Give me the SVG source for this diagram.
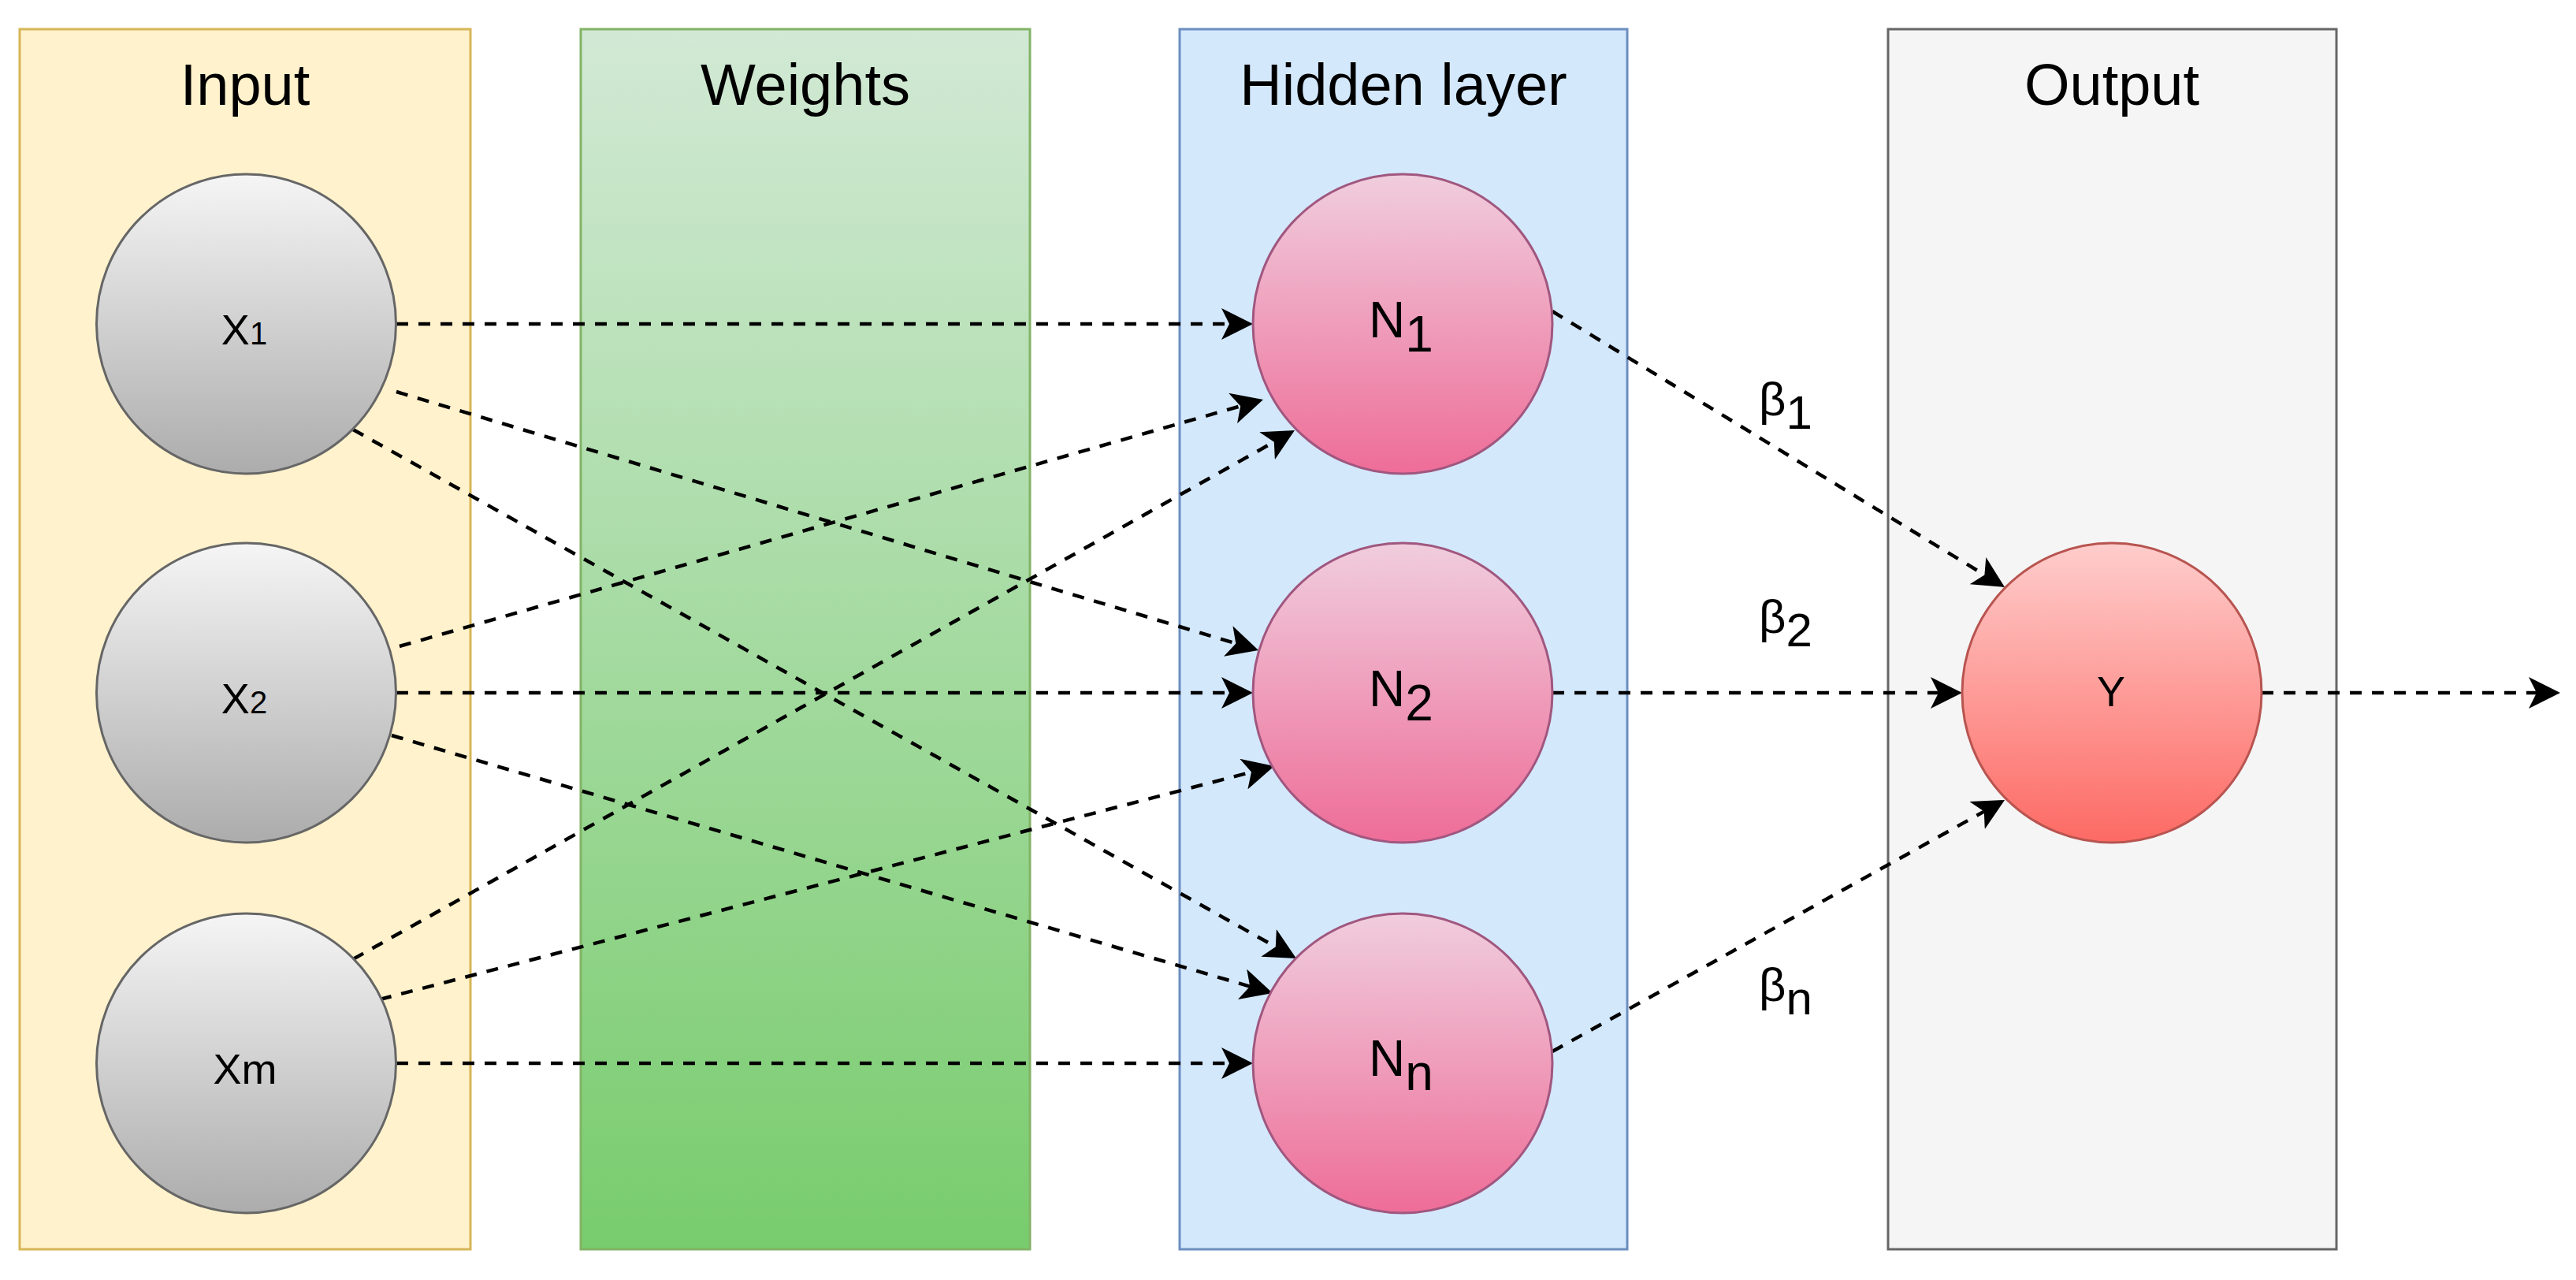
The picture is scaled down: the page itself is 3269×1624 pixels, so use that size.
<svg xmlns="http://www.w3.org/2000/svg" width="3269" height="1624" viewBox="0 0 3269 1624">
<defs>
<style>
.hdr{font-family:"Liberation Sans",Arial,sans-serif;font-size:74px;fill:#000;text-anchor:middle}
.lbl{font-family:"Liberation Sans",Arial,sans-serif;font-size:54px;fill:#000;text-anchor:middle}
.nl{font-family:"Liberation Sans",Arial,sans-serif;font-size:64px;fill:#000;text-anchor:middle}
.beta{font-family:"Liberation Sans",Arial,sans-serif;font-size:60px;fill:#000}
.edge{fill:none;stroke:#000;stroke-width:4.5;stroke-dasharray:15 13;marker-end:url(#arr)}
.edge2{fill:none;stroke:#000;stroke-width:4.5;stroke-dasharray:15 13}
.xc{fill:url(#gx);stroke:#666;stroke-width:3}
.nc{fill:url(#gn);stroke:#a0577f;stroke-width:3}
</style>
<linearGradient id="gw" x1="0" y1="0" x2="0" y2="1"><stop offset="0" stop-color="#d2e9d5"/><stop offset="1" stop-color="#78cc6d"/></linearGradient>
<linearGradient id="gx" x1="0" y1="0" x2="0" y2="1"><stop offset="0" stop-color="#f5f5f5"/><stop offset="1" stop-color="#acacac"/></linearGradient>
<linearGradient id="gn" x1="0" y1="0" x2="0" y2="1"><stop offset="0" stop-color="#f0cddd"/><stop offset="1" stop-color="#ee6d98"/></linearGradient>
<linearGradient id="gy" x1="0" y1="0" x2="0" y2="1"><stop offset="0" stop-color="#fecdcc"/><stop offset="1" stop-color="#fd6a64"/></linearGradient>
<marker id="arr" markerUnits="userSpaceOnUse" viewBox="-10 -20 40 40" markerWidth="40" markerHeight="40" refX="0" refY="0" orient="auto">
<path d="M30,0 L-10,-20 L0,0 L-10,20 Z" fill="#000" stroke="none"/>
</marker>
</defs>
<rect width="3269" height="1624" fill="#fff"/>
<g id="layer-input">
<rect x="25" y="37" width="572" height="1548" fill="#fff2cc" stroke="#d6b656" stroke-width="3"/>
<text class="hdr" x="311" y="133">Input</text>
</g>
<g id="layer-weights">
<rect x="737" y="37" width="570" height="1548" fill="url(#gw)" stroke="#82b366" stroke-width="3"/>
<text class="hdr" x="1022" y="133">Weights</text>
</g>
<g id="layer-hidden">
<rect x="1497" y="37" width="568" height="1548" fill="#d4e8fc" stroke="#6c8ebf" stroke-width="3"/>
<text class="hdr" x="1781" y="133">Hidden layer</text>
</g>
<g id="layer-output">
<rect x="2396" y="37" width="569" height="1548" fill="#f5f5f5" stroke="#666" stroke-width="3"/>
<text class="hdr" x="2680" y="133">Output</text>
</g>
<g id="connectors">
<path class="edge" d="M503,411 L1560,411"/>
<path class="edge" d="M503,497 L1568.3,816.4"/>
<path class="edge" d="M448,545 L1618.8,1201.3"/>
<path class="edge" d="M507,820 L1574.2,515.2"/>
<path class="edge" d="M503,879 L1560,879"/>
<path class="edge" d="M497,933 L1586.2,1251.6"/>
<path class="edge" d="M448,1217 L1616.8,560.7"/>
<path class="edge" d="M482,1268 L1588,979.6"/>
<path class="edge" d="M503,1349 L1560,1349"/>
<path class="edge" d="M1970,395 L2518.4,729.4"/>
<path class="edge" d="M1970,879 L2460,879"/>
<path class="edge" d="M1970,1334 L2517.8,1029.6"/>
<path class="edge" d="M2870,879 L3219,879"/>
</g>
<g id="node-x1">
<circle class="xc" cx="312.5" cy="411" r="190"/>
<text class="lbl" x="310" y="437">X<tspan font-size="40">1</tspan></text>
</g>
<g id="node-x2">
<circle class="xc" cx="312.5" cy="879" r="190"/>
<text class="lbl" x="310" y="905">X<tspan font-size="40">2</tspan></text>
</g>
<g id="node-xm">
<circle class="xc" cx="312.5" cy="1349" r="190"/>
<text class="lbl" x="311" y="1375">Xm</text>
</g>
<g id="node-n1">
<circle class="nc" cx="1780" cy="411" r="190"/>
<text class="nl" x="1778" y="428">N<tspan dy="18">1</tspan></text>
</g>
<g id="node-n2">
<circle class="nc" cx="1780" cy="879" r="190"/>
<text class="nl" x="1778" y="896">N<tspan dy="18">2</tspan></text>
</g>
<g id="node-nn">
<circle class="nc" cx="1780" cy="1349" r="190"/>
<text class="nl" x="1778" y="1365">N<tspan dy="18">n</tspan></text>
</g>
<g id="node-y">
<circle cx="2680" cy="879" r="190" fill="url(#gy)" stroke="#b85450" stroke-width="3"/>
<text class="lbl" x="2679" y="896">Y</text>
</g>
<g id="labels">
<text class="beta" x="2232" y="527">β<tspan dy="17">1</tspan></text>
<text class="beta" x="2232" y="803">β<tspan dy="17">2</tspan></text>
<text class="beta" x="2232" y="1270">β<tspan dy="17">n</tspan></text>
</g>
</svg>
